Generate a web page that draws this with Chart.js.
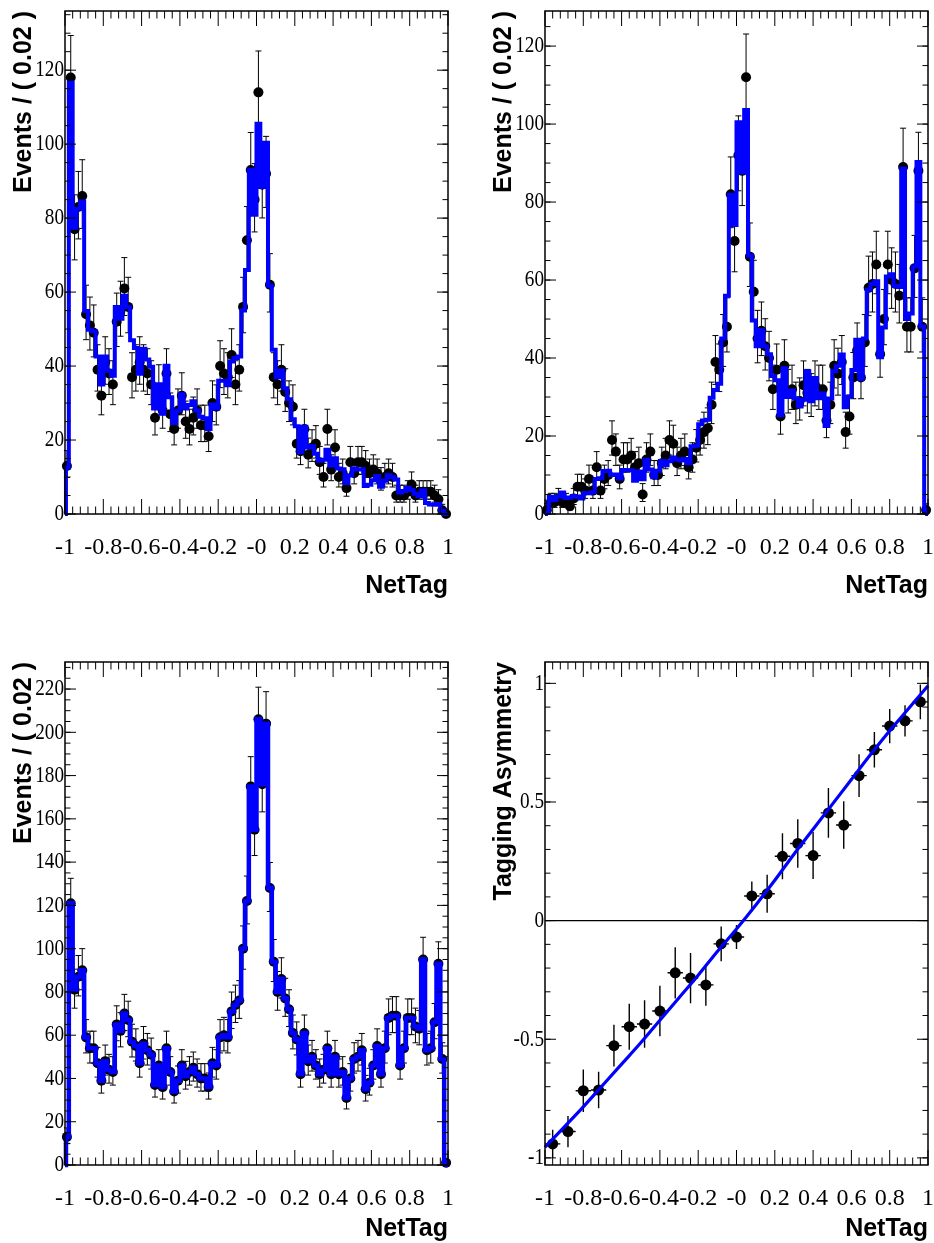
<!DOCTYPE html>
<html>
<head>
<meta charset="utf-8">
<script src="https://cdn.jsdelivr.net/npm/chart.js@4.4.0/dist/chart.umd.min.js"></script>
<style>
  html, body { margin: 0; padding: 0; background: #fff; overflow: hidden; width: 934px; height: 1243px; }
  body { position: relative; }
  canvas { position: absolute; }
</style>
</head>
<body>
<canvas id="padTL" width="480" height="651" style="left:0;top:0"></canvas>
<canvas id="padTR" width="480" height="651" style="left:480px;top:0"></canvas>
<canvas id="padBL" width="480" height="651" style="left:0;top:651px"></canvas>
<canvas id="padBR" width="480" height="651" style="left:480px;top:651px"></canvas>
<script>
// NetTag binning: 100 bins of 0.02 on [-1, 1]
const binLow = -1;
const binWidth = 0.02;

// Events per bin, first tag category
const countsTopLeft = [13,118,77,83,86,54,51,49,39,32, 41,38,35,52,55,61,56,37,39,41,
  39,38,35,26,34,28,38,27,23,28, 32,25,23,26,28,24,24,21,30,29,
  40,38,37,43,35,39,56,74,93,85, 114,89,92,62,37,35,39,33,30,29,
  19,17,23,16,18,19,14,10,23,12, 18,10,11,7,14,11,14,14,13,11,
  12,11,9,10,11,10,5,5,5,6, 8,5,6,6,6,6,5,4,1,0];

// Fitted model per bin, first tag category
const fitTopLeft = [12.6,116.6,77.4,82.5,84.5,54.9,49.8,49.4,42.6,35.0, 42.6,38.7,37.4,56.0,52.8,59.0,55.9,47.0,44.9,37.9,
  44.7,41.8,39.8,28.5,35.1,27.1,40.1,31.6,24.6,27.9, 32.4,28.5,29.5,30.5,28.0,26.3,25.9,23.0,29.6,28.5,
  36.0,36.0,34.8,41.2,42.2,42.6,55.0,66.0,93.1,80.9, 105.5,88.4,100.4,61.7,44.4,37.0,38.8,34.0,31.0,25.6,
  23.7,16.7,23.6,18.0,18.3,16.3,14.4,14.7,17.4,13.1, 15.1,12.3,12.1,8.4,10.4,12.3,12.0,12.1,7.6,7.9,
  9.1,10.3,7.4,9.0,10.5,10.0,9.3,5.8,6.2,7.1, 6.5,5.5,4.8,6.4,3.0,2.6,2.5,2.7,0.9,0.0];

// Events per bin, second tag category
const countsTopRight = [1,3,3,4,3,3,2,4,7,7, 6,9,6,12,6,9,10,19,16,9,
  14,14,15,12,13,5,14,16,10,10, 13,15,19,18,13,15,16,12,14,17,
  19,21,22,28,39,37,44,48,82,70, 92,88,112,66,57,45,47,43,40,32,
  37,25,38,31,32,28,29,33,31,30, 33,32,32,24,28,38,36,39,21,25,
  35,42,35,44,58,59,64,41,50,64, 60,59,56,89,48,48,63,88,48,1];

// Fitted model per bin, second tag category
const fitTopRight = [0.4,4.4,3.6,4.5,5.5,4.1,4.2,4.6,4.4,4.0, 5.4,5.3,5.6,9.0,9.2,11.0,11.1,10.0,10.1,9.1,
  11.3,11.2,11.2,8.5,10.9,8.9,13.9,11.4,9.4,11.1, 13.6,12.5,13.5,14.5,14.0,13.7,14.1,13.0,17.4,17.5,
  23.0,24.0,24.2,29.8,31.8,33.4,45.0,56.0,81.9,74.1, 100.5,87.6,103.6,66.3,49.6,43.0,47.2,43.0,41.0,35.4,
  34.3,25.3,37.4,30.0,31.7,29.7,27.6,29.3,36.6,28.9, 34.9,29.7,30.9,22.6,29.6,36.7,38.0,40.9,27.4,30.1,
  36.9,44.7,34.6,45.0,57.5,59.0,59.7,40.2,47.8,60.9, 61.5,58.5,58.2,88.6,50.0,51.4,63.5,90.3,48.1,1.0];

// Events per bin, both categories together
const countsTotal = [13,121,81,87,90,59,54,54,47,39, 48,44,43,65,62,70,67,57,55,47,
  56,53,51,37,46,36,54,43,34,39, 46,41,43,45,42,40,40,36,47,46,
  59,60,59,71,74,76,100,122,175,155, 206,176,204,128,94,80,86,77,72,61,
  58,42,61,48,50,46,42,44,54,42, 50,42,43,31,40,49,50,53,35,38,
  46,55,42,54,68,69,69,46,54,68, 68,64,63,95,53,54,66,93,49,1];

// Tagging asymmetry in 25 bins of 0.08
const asymCenters = [-0.96,-0.88,-0.80,-0.72,-0.64,-0.56,-0.48,-0.40,-0.32,-0.24,-0.16,-0.08,0.00,
  0.08,0.16,0.24,0.32,0.40,0.48,0.56,0.64,0.72,0.80,0.88,0.96];
const asymValues = [-0.941,-0.889,-0.717,-0.714,-0.527,-0.447,-0.436,-0.381,-0.220,-0.242,-0.271,-0.098,-0.069,
  0.104,0.113,0.271,0.325,0.274,0.454,0.403,0.611,0.720,0.820,0.842,0.922];
const asymErrors = [0.060,0.066,0.090,0.077,0.088,0.097,0.100,0.106,0.108,0.106,0.088,0.073,0.051,
  0.061,0.080,0.097,0.102,0.099,0.105,0.100,0.090,0.075,0.072,0.066,0.073];
const asymHalfBin = 0.04;

// Fitted asymmetry curve
const asymCurveX = [-1,-0.9,-0.8,-0.7,-0.6,-0.5,-0.4,-0.3,-0.2,-0.1,0,0.1,0.2,0.3,0.4,0.5,0.6,0.7,0.8,0.9,1];
const asymCurveY = [-0.955,-0.87,-0.785,-0.695,-0.605,-0.515,-0.42,-0.325,-0.23,-0.13,-0.035,0.065,0.17,0.28,0.385,0.49,0.595,0.70,0.80,0.895,0.99];

// Axis ticks and labels
const xTickValues = [-1,-0.8,-0.6,-0.4,-0.2,0,0.2,0.4,0.6,0.8,1];
const xTickLabels = ['-1','-0.8','-0.6','-0.4','-0.2','-0','0.2','0.4','0.6','0.8','1'];
const yTicksSmall = [0,20,40,60,80,100,120];
const yTicksLarge = [0,20,40,60,80,100,120,140,160,180,200,220];
const yTicksAsym = [-1,-0.5,0,0.5,1];
const yTickLabelsAsym = ['-1','-0.5','0','0.5','1'];

const BLUE = '#0000ff';
const LABEL_FONT = "24px 'Liberation Serif', 'Times New Roman', serif";
const TITLE_FONT = "bold 25px 'Liberation Sans', Arial, sans-serif";
const Y_LABEL_SQUEEZE = 0.8;

function binCenter(i) { return binLow + binWidth * (i + 0.5); }

// Poisson-style interval for a bin count
function countPoints(counts) {
  return counts.map((n, i) => {
    const s = Math.sqrt(n + 0.25);
    return { x: binCenter(i), y: n, lo: Math.max(0, n - (s - 0.5)), hi: n + s + 0.5 };
  });
}

// Model curve as a step line closed to zero at both ends of the range
function curvePoints(values) {
  const pts = [{ x: binLow, y: 0 }];
  values.forEach((v, i) => pts.push({ x: binCenter(i), y: v }));
  pts.push({ x: binLow + binWidth * values.length, y: 0 });
  return pts;
}

// Frame, inward ticks on all four sides, tick labels, axis titles, error bars
function rootStyle(cfg) {
  return {
    id: 'rootStyle',
    beforeDatasetsDraw(chart) {
      const { ctx, scales: { x, y } } = chart;
      ctx.save();
      ctx.strokeStyle = '#000';
      chart.data.datasets.forEach(ds => {
        if (!ds.errorBars) return;
        ctx.lineWidth = ds.errorBars.width;
        ctx.beginPath();
        ds.data.forEach(p => {
          const px = x.getPixelForValue(p.x);
          const yl = y.getPixelForValue(p.lo), yh = y.getPixelForValue(p.hi);
          ctx.moveTo(px, yl); ctx.lineTo(px, yh);
          if (ds.errorBars.cap) {
            const c = ds.errorBars.cap;
            ctx.moveTo(px - c, yl); ctx.lineTo(px + c, yl);
            ctx.moveTo(px - c, yh); ctx.lineTo(px + c, yh);
          }
          if (p.xlo !== undefined) {
            const py = y.getPixelForValue(p.y);
            ctx.moveTo(x.getPixelForValue(p.xlo), py); ctx.lineTo(x.getPixelForValue(p.xhi), py);
          }
        });
        ctx.stroke();
      });
      ctx.restore();
    },
    afterDatasetsDraw(chart) {
      const { ctx, chartArea: a, scales: { x, y } } = chart;
      ctx.save();
      ctx.strokeStyle = '#000';
      ctx.fillStyle = '#000';
      ctx.lineWidth = 1.5;
      ctx.strokeRect(a.left, a.top, a.right - a.left, a.bottom - a.top);

      ctx.lineWidth = 1;
      ctx.beginPath();
      // x ticks: minor every 0.04, major every 0.2
      const xMajLen = 15, xMinLen = 7.5;
      for (let k = 0; k <= 50; k++) {
        const v = -1 + k * 0.04;
        const px = x.getPixelForValue(v);
        const len = (k % 5 === 0) ? xMajLen : xMinLen;
        ctx.moveTo(px, a.bottom); ctx.lineTo(px, a.bottom - len);
        ctx.moveTo(px, a.top); ctx.lineTo(px, a.top + len);
      }
      // y ticks
      const yMajLen = 11, yMinLen = 5.5;
      const nMinor = Math.round((cfg.yMax - cfg.yMinorStart) / cfg.yMinorStep);
      for (let k = 0; k <= nMinor; k++) {
        const v = cfg.yMinorStart + k * cfg.yMinorStep;
        if (v < cfg.yMin - 1e-9 || v > cfg.yMax + 1e-9) continue;
        const py = y.getPixelForValue(v);
        ctx.moveTo(a.left, py); ctx.lineTo(a.left + yMinLen, py);
        ctx.moveTo(a.right, py); ctx.lineTo(a.right - yMinLen, py);
      }
      cfg.yMajor.forEach(v => {
        const py = y.getPixelForValue(v);
        ctx.moveTo(a.left, py); ctx.lineTo(a.left + yMajLen, py);
        ctx.moveTo(a.right, py); ctx.lineTo(a.right - yMajLen, py);
      });
      ctx.stroke();

      // tick labels
      ctx.font = LABEL_FONT;
      ctx.textAlign = 'center';
      ctx.textBaseline = 'middle';
      xTickValues.forEach((v, i) => {
        ctx.fillText(xTickLabels[i], x.getPixelForValue(v), a.bottom + 34);
      });
      ctx.textAlign = 'right';
      cfg.yMajor.forEach((v, i) => {
        ctx.save();
        ctx.translate(a.left - 1, y.getPixelForValue(v));
        ctx.scale(Y_LABEL_SQUEEZE, 1);
        ctx.fillText(cfg.yLabels[i], 0, 0);
        ctx.restore();
      });

      // axis titles
      ctx.font = TITLE_FONT;
      ctx.textAlign = 'right';
      ctx.textBaseline = 'middle';
      ctx.fillText('NetTag', a.right, a.bottom + cfg.xTitleGap);
      ctx.save();
      ctx.translate(24, a.top);
      ctx.rotate(-Math.PI / 2);
      ctx.fillText(cfg.yTitle, 0, 0);
      ctx.restore();
      ctx.restore();
    }
  };
}

function makePanel(id, cfg, datasets) {
  return new Chart(document.getElementById(id), {
    type: 'scatter',
    data: { datasets },
    options: {
      responsive: false,
      animation: false,
      devicePixelRatio: 1,
      events: [],
      layout: { padding: { left: 65, top: 11, right: 32, bottom: 137 } },
      plugins: { legend: { display: false }, tooltip: { enabled: false } },
      scales: {
        x: { type: 'linear', min: -1, max: 1, display: false },
        y: { type: 'linear', min: cfg.yMin, max: cfg.yMax, display: false }
      }
    },
    plugins: [rootStyle(cfg)]
  });
}

function fitDataset(values, width) {
  return {
    data: curvePoints(values), showLine: true, stepped: 'middle',
    borderColor: BLUE, borderWidth: width, pointRadius: 0, fill: false, clip: 3
  };
}
function dataDataset(points, cap) {
  return {
    data: points, showLine: false, pointRadius: 5, pointBorderWidth: 0,
    pointBackgroundColor: '#000', clip: false, errorBars: { width: 1, cap: cap }
  };
}

const countsTitle = 'Events / ( 0.02 )';

makePanel('padTL',
  { yMin: 0, yMax: 136, yMajor: yTicksSmall, yLabels: yTicksSmall.map(String), yMinorStart: 0, yMinorStep: 5,
    yTitle: countsTitle, xTitleGap: 72 },
  [fitDataset(fitTopLeft, 4), dataDataset(countPoints(countsTopLeft), 3)]);

makePanel('padTR',
  { yMin: 0, yMax: 129, yMajor: yTicksSmall, yLabels: yTicksSmall.map(String), yMinorStart: 0, yMinorStep: 5,
    yTitle: countsTitle, xTitleGap: 72 },
  [fitDataset(fitTopRight, 4), dataDataset(countPoints(countsTopRight), 3)]);

makePanel('padBL',
  { yMin: 0, yMax: 232.5, yMajor: yTicksLarge, yLabels: yTicksLarge.map(String), yMinorStart: 0, yMinorStep: 5,
    yTitle: countsTitle, xTitleGap: 64 },
  [fitDataset(countsTotal, 4.5), dataDataset(countPoints(countsTotal), 3)]);

const asymPoints = asymCenters.map((c, i) => ({
  x: c, y: asymValues[i], lo: asymValues[i] - asymErrors[i], hi: asymValues[i] + asymErrors[i],
  xlo: c - asymHalfBin, xhi: c + asymHalfBin
}));
const asymCurve = asymCurveX.map((v, i) => ({ x: v, y: asymCurveY[i] }));

makePanel('padBR',
  { yMin: -1.03, yMax: 1.09, yMajor: yTicksAsym, yLabels: yTickLabelsAsym, yMinorStart: -1, yMinorStep: 0.1,
    yTitle: 'Tagging Asymmetry', xTitleGap: 64 },
  [
    { data: asymCurve, showLine: true, borderColor: BLUE, borderWidth: 3.2, pointRadius: 0,
      cubicInterpolationMode: 'monotone', fill: false, clip: 3 },
    { data: asymPoints, showLine: false, pointRadius: 5.5, pointBorderWidth: 0,
      pointBackgroundColor: '#000', clip: false, errorBars: { width: 1.4, cap: 0 } },
    { data: [{ x: -1, y: 0 }, { x: 1, y: 0 }], showLine: true, borderColor: '#000', borderWidth: 1.2,
      pointRadius: 0, fill: false }
  ]);
</script>
</body>
</html>
